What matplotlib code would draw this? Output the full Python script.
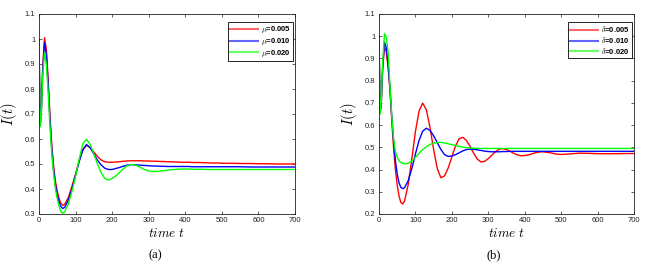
import matplotlib
matplotlib.use('Agg')
import matplotlib.pyplot as plt

plt.rcParams['font.family'] = ['Liberation Sans', 'DejaVu Sans']
plt.rcParams['mathtext.fontset'] = 'cm'

# time grid (read points)
t = [0, 3, 6, 10, 15, 20, 25, 30, 35, 40, 45, 50, 55, 60, 65, 70] + \
    list(range(80, 501, 10)) + list(range(525, 701, 25))

# ---- panel (a): varying mu ----
mu_labels = [r'$\mu$=0.005', r'$\mu$=0.010', r'$\mu$=0.020']
a_red = [1.0, 0.66, 0.70, 0.88, 1.005, 0.96, 0.84, 0.69, 0.575, 0.49, 0.43, 0.39, 0.362, 0.342, 0.335, 0.338,
         0.365, 0.41, 0.46, 0.515, 0.558, 0.575, 0.566, 0.548, 0.530, 0.516, 0.509, 0.507, 0.507, 0.508,
         0.509, 0.511, 0.512, 0.513, 0.513, 0.513, 0.513, 0.512, 0.512, 0.511, 0.511, 0.510, 0.510, 0.509,
         0.509, 0.508, 0.508, 0.507, 0.507, 0.507, 0.506, 0.506, 0.506, 0.505, 0.505, 0.504, 0.504, 0.504, 0.503,
         0.503, 0.502, 0.502, 0.501, 0.501, 0.500, 0.500, 0.500]
a_blue = [1.0, 0.655, 0.69, 0.87, 0.985, 0.94, 0.82, 0.675, 0.56, 0.475, 0.415, 0.375, 0.348, 0.330, 0.322, 0.326,
          0.355, 0.40, 0.455, 0.51, 0.556, 0.578, 0.565, 0.540, 0.515, 0.496, 0.483, 0.478, 0.478, 0.482,
          0.486, 0.491, 0.495, 0.497, 0.497, 0.496, 0.495, 0.494, 0.493, 0.492, 0.492, 0.491, 0.491, 0.490,
          0.490, 0.490, 0.490, 0.490, 0.490, 0.490, 0.489, 0.489, 0.489, 0.489, 0.489, 0.489, 0.489, 0.489, 0.489,
          0.489, 0.489, 0.488, 0.488, 0.488, 0.488, 0.488, 0.488]
a_green = [1.0, 0.65, 0.68, 0.85, 0.945, 0.90, 0.79, 0.65, 0.54, 0.46, 0.40, 0.36, 0.33, 0.310, 0.303, 0.308,
           0.34, 0.39, 0.45, 0.52, 0.582, 0.598, 0.578, 0.540, 0.500, 0.465, 0.442, 0.436, 0.442, 0.452,
           0.466, 0.480, 0.492, 0.498, 0.497, 0.492, 0.484, 0.477, 0.472, 0.470, 0.470, 0.471, 0.473, 0.475,
           0.477, 0.478, 0.479, 0.480, 0.480, 0.480, 0.479, 0.479, 0.479, 0.479, 0.478, 0.478, 0.478, 0.478, 0.478,
           0.478, 0.478, 0.478, 0.478, 0.478, 0.478, 0.478, 0.478]

# ---- panel (b): varying delta ----
d_labels = [r'$\delta$=0.005', r'$\delta$=0.010', r'$\delta$=0.020']
b_red = [1.0, 0.66, 0.69, 0.85, 0.953, 0.93, 0.86, 0.76, 0.62, 0.50, 0.40, 0.33, 0.28, 0.252, 0.245, 0.258,
         0.331, 0.447, 0.571, 0.664, 0.699, 0.669, 0.590, 0.490, 0.404, 0.363, 0.372, 0.407, 0.457, 0.506,
         0.539, 0.545, 0.531, 0.504, 0.473, 0.447, 0.434, 0.437, 0.449, 0.465, 0.481, 0.492, 0.494, 0.490,
         0.482, 0.473, 0.466, 0.462, 0.463, 0.466, 0.471, 0.476, 0.479, 0.480, 0.478, 0.4755, 0.472, 0.469, 0.468,
         0.4705, 0.4738, 0.473, 0.4715, 0.471, 0.4715, 0.472, 0.472]
b_blue = [1.0, 0.655, 0.69, 0.86, 0.973, 0.95, 0.87, 0.77, 0.64, 0.53, 0.44, 0.38, 0.34, 0.32, 0.314, 0.318,
          0.349, 0.404, 0.470, 0.531, 0.573, 0.586, 0.576, 0.552, 0.521, 0.490, 0.467, 0.459, 0.461, 0.467,
          0.4755, 0.484, 0.490, 0.492, 0.491, 0.489, 0.486, 0.483, 0.481, 0.480, 0.480, 0.480, 0.481, 0.481,
          0.482, 0.482, 0.482, 0.482, 0.482, 0.482, 0.482, 0.482, 0.482, 0.482, 0.482, 0.482, 0.482, 0.482, 0.482,
          0.482, 0.482, 0.482, 0.482, 0.482, 0.482, 0.482, 0.482]
b_green = [1.0, 0.65, 0.70, 0.88, 1.012, 0.995, 0.93, 0.78, 0.64, 0.54, 0.48, 0.455, 0.44, 0.432, 0.428, 0.426,
           0.428, 0.438, 0.455, 0.473, 0.490, 0.503, 0.513, 0.519, 0.522, 0.522, 0.520, 0.516, 0.512, 0.508,
           0.504, 0.501, 0.499, 0.497, 0.496, 0.4955, 0.495, 0.495, 0.495, 0.495, 0.495, 0.495, 0.495, 0.495,
           0.495, 0.495, 0.495, 0.495, 0.495, 0.495, 0.495, 0.495, 0.495, 0.495, 0.495, 0.495, 0.495, 0.495, 0.495,
           0.495, 0.495, 0.495, 0.495, 0.495, 0.495, 0.495, 0.495]

x_ticks = [0, 100, 200, 300, 400, 500, 600, 700]
a_yticks = [0.3, 0.4, 0.5, 0.6, 0.7, 0.8, 0.9, 1.0, 1.1]
b_yticks = [0.2, 0.3, 0.4, 0.5, 0.6, 0.7, 0.8, 0.9, 1.0, 1.1]
colors = ['#ff0000', '#0000ff', '#00ff00']

W, H = 647, 272
fig = plt.figure(figsize=(W / 100, H / 100), dpi=100)
ax1 = fig.add_axes([39 / W, 58 / H, 256 / W, 200 / H])
ax2 = fig.add_axes([379 / W, 58 / H, 255 / W, 200 / H])


def draw(ax, series, labels, yticks, ylim):
    for y, c, lab in zip(series, colors, labels):
        ax.plot(t, y, color=c, lw=1.0, label=lab)
    ax.set_xlim(0, 700)
    ax.set_ylim(*ylim)
    ax.set_xticks(x_ticks)
    ax.set_yticks(yticks)
    ax.set_yticklabels(['%g' % v for v in yticks])
    ax.tick_params(direction='in', length=2.2, width=0.5, top=True, right=True,
                   labelsize=5.5, pad=2.5, colors='#222222')
    for s in ax.spines.values():
        s.set_linewidth(0.6)
        s.set_color('#222222')
    ax.set_xlabel(r'$time\ t$', fontsize=9.5, labelpad=2)
    ax.set_ylabel(r'$I(t)$', fontsize=10.5, labelpad=4)
    leg = ax.legend(loc='upper right', bbox_to_anchor=(0.992, 0.96),
                    prop={'weight': 'bold', 'size': 5.5}, frameon=True, fancybox=False,
                    edgecolor='black', framealpha=1, handlelength=3.6, handletextpad=0.4,
                    labelspacing=0.12, borderpad=0.3, borderaxespad=0)
    leg.get_frame().set_linewidth(0.6)
    for ln in leg.get_lines():
        ln.set_linewidth(1.5)
        ln.set_alpha(0.6)


draw(ax1, [a_red, a_blue, a_green], mu_labels, a_yticks, (0.3, 1.1))
draw(ax2, [b_red, b_blue, b_green], d_labels, b_yticks, (0.2, 1.1))

fig.text(155 / W, 1 - 255 / H, '(a)', family='Liberation Serif', fontsize=9, ha='center', va='center')
fig.text(494 / W, 1 - 255 / H, '(b)', family='Liberation Serif', fontsize=9, ha='center', va='center')

fig.savefig('out.png', dpi=100)
